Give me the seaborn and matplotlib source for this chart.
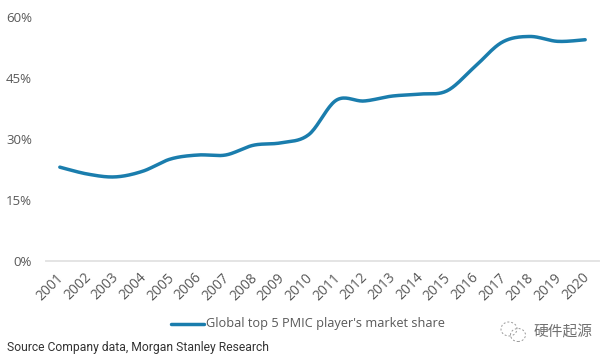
import numpy as np
import pandas as pd
import seaborn as sns
import matplotlib
matplotlib.use('Agg')
import matplotlib.pyplot as plt
from matplotlib.patches import Ellipse
from matplotlib.transforms import ScaledTranslation

# values
years = [2001, 2002, 2003, 2004, 2005, 2006, 2007, 2008, 2009, 2010,
         2011, 2012, 2013, 2014, 2015, 2016, 2017, 2018, 2019, 2020]
share = [23.0, 21.3, 20.6, 22.0, 25.0, 26.0, 26.0, 28.4, 29.0, 31.0,
         39.5, 39.3, 40.5, 41.0, 41.8, 47.7, 53.8, 55.2, 54.0, 54.4]
y_ticks = [0, 15, 30, 45, 60]
series_name = "Global top 5 PMIC player's market share"
source_text = "Source Company data, Morgan Stanley Research"
watermark = "硬件起源"

TEXT = '#595959'
LINE = '#1a7dad'


# the original line has Excel's "smoothed" option, so round it the same way (Catmull-Rom)
def smooth(x, y, n=20):
    x = np.array(x, dtype=float)
    y = np.array(y, dtype=float)
    px = np.r_[x[0], x, x[-1]]
    py = np.r_[y[0], y, y[-1]]
    t = np.linspace(0, 1, n, endpoint=False)[:, None]
    out_x = []
    out_y = []
    for i in range(1, len(px) - 2):
        for p, out in ((px, out_x), (py, out_y)):
            a, b, c, d = p[i - 1], p[i], p[i + 1], p[i + 2]
            seg = 0.5 * (2 * b + (c - a) * t + (2 * a - 5 * b + 4 * c - d) * t ** 2
                         + (3 * b - a - 3 * c + d) * t ** 3)
            out.extend(seg.ravel())
    out_x.append(x[-1])
    out_y.append(y[-1])
    return out_x, out_y


sns.set_theme(style='white')
plt.rcParams['font.family'] = ['Open Sans', 'DejaVu Sans']

W, H = 612, 359
fig = plt.figure(figsize=(W / 100, H / 100), dpi=100)
ax = fig.add_axes([46 / W, 1 - 260.5 / H, (599 - 46) / W, (260.5 - 17) / H])

sx, sy = smooth(years, share)
curve = pd.DataFrame({'year': sx, 'share': sy})
sns.lineplot(data=curve, x='year', y='share', ax=ax, color=LINE, linewidth=2.5,
             solid_capstyle='round', errorbar=None, estimator=None, legend=False)

ax.set_xlim(2000.5, 2020.5)
ax.set_ylim(0, 60)
ax.set_xlabel('')
ax.set_ylabel('')
ax.set_xticks(years)
ax.set_xticklabels(years, rotation=45, ha='center', va='top', fontsize=10, color=TEXT)
ax.set_yticks(y_ticks)
ax.set_yticklabels([f'{v}%' for v in y_ticks], fontsize=9.5, color=TEXT)
ax.tick_params(axis='x', length=0, pad=7)
ax.tick_params(axis='y', length=0, pad=10)
# labels sit left of their tick in the original
shift = ScaledTranslation(-9.5 / 100, 0, fig.dpi_scale_trans)
for lab in ax.get_xticklabels():
    lab.set_transform(lab.get_transform() + shift)
ax.set_facecolor('none')
sns.despine(ax=ax, left=True, top=True, right=True)
ax.spines['bottom'].set_color('#e4e4e4')
ax.spines['bottom'].set_linewidth(1.4)

# legend, placed by hand to sit like the original
fig.add_artist(plt.Line2D([171 / W, 204 / W], [1 - 324 / H] * 2, color=LINE, lw=2.5,
                          solid_capstyle='round'))
fig.text(206 / W, 1 - 324 / H, series_name, fontsize=9.2, color=TEXT, va='center', ha='left')

fig.text(7 / W, 1 - 347 / H, source_text, fontsize=8.75, color='#333333', va='center', ha='left',
         family=['Roboto'])

# watermark
fig.text(534 / W, 1 - 332 / H, watermark, fontsize=10.6, color='#707070', va='center', ha='left',
         family=['Noto Sans CJK SC', 'DejaVu Sans'])
icon = fig.add_axes([500 / W, 1 - 343 / H, 27 / W, 24 / H])
icon.set_xlim(0, 27)
icon.set_ylim(0, 24)
icon.axis('off')
icon.add_patch(Ellipse((9, 14), 16, 14, fill=False, ec='#9a9a9a', lw=0.7, ls=(0, (2, 2))))
icon.add_patch(Ellipse((18, 8), 15, 13, fill=False, ec='#9a9a9a', lw=0.7, ls=(0, (2, 2))))

fig.savefig('out.png', dpi=100)
